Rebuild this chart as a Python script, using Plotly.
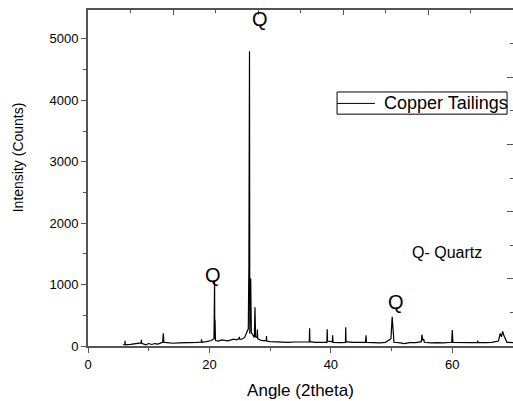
import plotly.graph_objects as go

angle = [5.8, 6.0, 6.08, 6.1, 6.14, 7.0, 8.0, 8.5, 8.75, 8.8, 8.85, 9.5, 10.0, 10.5, 11.0, 11.5, 12.0, 12.3, 12.4, 12.5,
         13.0, 14.0, 15.0, 16.0, 17.0, 18.0, 18.65, 18.7, 18.75, 19.5, 20.3, 20.75, 20.85, 20.88, 20.92, 21.0,
         21.5, 22.0, 23.0, 24.0, 24.5, 24.88, 24.92, 25.0, 25.3, 25.8, 26.1, 26.4, 26.5, 26.6, 26.65, 26.8, 26.9,
         27.4, 27.5, 27.6, 27.85, 27.9, 27.95, 28.5, 29.0, 29.35, 29.4, 29.45, 30, 31, 32, 33, 34, 35, 36.45, 36.5, 36.55,
         37.5, 38.5, 39.35, 39.4, 39.45, 40.0, 40.25, 40.3, 40.35, 41.5, 42.4, 42.45, 42.5, 43.5, 44.5, 45.7, 45.8, 45.85, 47, 48,
         49, 49.9, 50.1, 50.25, 50.4, 51.5, 52, 53, 54, 54.9, 55.0, 55.15, 55.3, 55.4, 56.5, 57.5, 58.5, 59.9, 60.0,
         60.1, 61, 62, 63, 64.15, 64.2, 64.25, 65.5, 66.5, 67.6, 67.9, 68.1, 68.3, 68.5, 68.7, 69, 70]
counts = [15, 20, 30, 86, 20, 25, 35, 40, 50, 100, 45, 20, 40, 25, 40, 30, 45, 60, 206, 60,
          55, 45, 50, 50, 55, 60, 65, 110, 60, 70, 90, 120, 1050, 120, 430, 90,
          80, 100, 85, 110, 100, 120, 150, 110, 110, 140, 200, 280, 1320, 4800, 200, 1100, 220,
          140, 630, 150, 140, 270, 120, 90, 80, 85, 163, 80, 70, 65, 60, 60, 65, 60, 65, 288, 70,
          60, 55, 60, 271, 80, 70, 75, 174, 60, 55, 60, 305, 70, 60, 55, 60, 174, 60, 55, 50,
          60, 120, 477, 150, 60, 50, 40, 55, 55, 70, 184, 90, 114, 60, 50, 55, 50, 60, 260,
          60, 55, 50, 55, 60, 86, 55, 55, 60, 80, 206, 150, 239, 170, 120, 60, 55]

series_name = "Copper Tailings"
x_title = "Angle (2theta)"
y_title = "Intensity (Counts)"
x_ticks = [0, 20, 40, 60]
y_ticks = [0, 1000, 2000, 3000, 4000, 5000]

labels = [("Q", 28.3, 5330), ("Q", 20.6, 1150), ("Q", 50.7, 716), ("Q- Quartz", 59.1, 1515)]

font = "Liberation Sans, Arial, sans-serif"
axcol = "#555555"

fig = go.Figure()
fig.add_trace(go.Scatter(x=angle, y=counts, mode="lines", name=series_name,
                         line=dict(color="black", width=1.2), showlegend=False))
# dummy trace for top/right frame axes
fig.add_trace(go.Scatter(x=[None], y=[None], xaxis="x2", yaxis="y2", showlegend=False, hoverinfo="skip"))

for text, xx, yy in labels:
    size = 20 if text == "Q" else 16
    fig.add_annotation(x=xx, y=yy, text=text, showarrow=False, xref="x", yref="y",
                       font=dict(family=font, size=size, color="black"))

# y-axis title (placed as in the reference, above centre)
fig.add_annotation(x=-0.164, y=0.5625, xref="paper", yref="paper", text=y_title, textangle=-90,
                   xanchor="center", yanchor="middle",
                   showarrow=False, font=dict(family=font, size=14, color="black"))

# legend box drawn like the reference (tight box, line sample, label)
fig.add_shape(type="rect", xref="paper", yref="paper", x0=0.586, x1=0.986, y0=0.690, y1=0.756,
              line=dict(color="black", width=1), fillcolor="white", layer="above")
fig.add_shape(type="line", xref="paper", yref="paper", x0=0.586, x1=0.675, y0=0.722, y1=0.722,
              line=dict(color="black", width=1), layer="above")
fig.add_annotation(x=0.692, y=0.722, xref="paper", yref="paper", text=series_name, showarrow=False,
                   xanchor="left", yanchor="middle", font=dict(family=font, size=18, color="black"))

fig.update_layout(
    width=513, height=401,
    margin=dict(l=88, r=0, t=10, b=55),
    plot_bgcolor="white", paper_bgcolor="white",
    font=dict(family=font, color="black"),
    showlegend=False,
    xaxis=dict(range=[0, 70], tickvals=x_ticks, ticks="outside", ticklen=5, tickwidth=1.2,
               tickcolor=axcol, showline=True, linecolor=axcol, linewidth=2, showgrid=False,
               zeroline=False, tickfont=dict(size=13, color="black"), automargin=False,
               minor=dict(dtick=10, ticks="outside", ticklen=3, tickcolor=axcol),
               title=dict(text=x_title, font=dict(size=17, color="black"), standoff=14)),
    yaxis=dict(range=[0, 5470], tickvals=y_ticks, ticks="outside", ticklen=5, tickwidth=1.2,
               tickcolor=axcol, showline=True, linecolor=axcol, linewidth=2, showgrid=False,
               zeroline=False, tickfont=dict(size=13, color="black"), automargin=False,
               minor=dict(dtick=500, ticks="outside", ticklen=3, tickcolor=axcol)),
    xaxis2=dict(overlaying="x", side="top", range=[0, 70], dtick=14, tick0=0, ticks="inside",
                ticklen=5, tickwidth=1.2, tickcolor=axcol, showticklabels=False, showgrid=False,
                zeroline=False, showline=True, linecolor=axcol, linewidth=2, automargin=False,
                minor=dict(dtick=7, ticks="inside", ticklen=3, tickcolor=axcol)),
    yaxis2=dict(overlaying="y", side="right", range=[0, 10], dtick=2, tick0=0, ticks="inside",
                ticklen=6, tickwidth=1.2, tickcolor=axcol, showticklabels=False, showgrid=False,
                zeroline=False, showline=False, automargin=False,
                minor=dict(dtick=1, ticks="inside", ticklen=3, tickcolor=axcol)),
)

fig.write_html("out.html", config={"displayModeBar": False},
               post_script="document.body.style.margin='0';")
